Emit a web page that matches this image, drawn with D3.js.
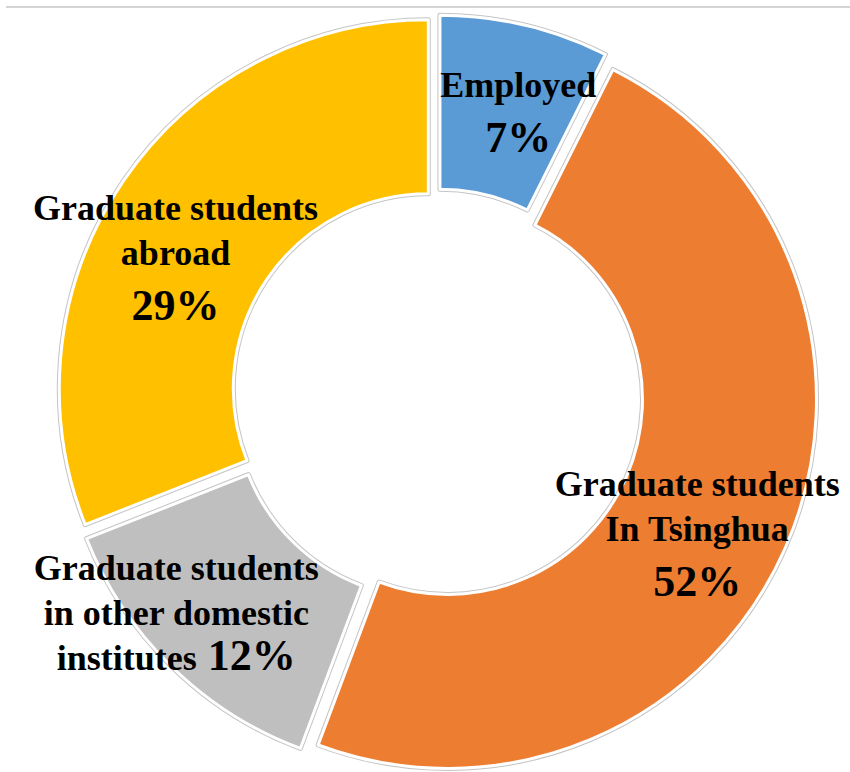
<!DOCTYPE html>
<html lang="en">
<head>
  <meta charset="UTF-8">
  <title>Graduate destinations</title>
  <script src="https://d3js.org/d3.v7.min.js"></script>
  <style>
    body {
      margin: 0;
      background: #fff;
    }
    .label {
      font-family: "Liberation Serif", "DejaVu Serif", serif;
      font-weight: bold;
      fill: #000;
    }
  </style>
</head>
<body>
  <div id="chart"></div>

  <script>
    // data: slice sizes as drawn, and the percentage text printed on them
    const categories = ["Employed", "Graduate students In Tsinghua", "Graduate students in other domestic institutes", "Graduate students abroad"];
    const values = [7.4, 48.3, 13.3, 31.0];
    const pctLabels = ["7%", "52%", "12%", "29%"];
    const colors = ["#5B9BD5", "#ED7D31", "#BFBFBF", "#FFC000"];
    const labelLines = [
      ["Employed"],
      ["Graduate students", "In Tsinghua"],
      ["Graduate students", "in other domestic", "institutes"],
      ["Graduate students", "abroad"]
    ];
    const pctInline = [false, false, true, false];

    const width = 850, height = 772;
    const cx = 437.4, cy = 395;
    const outerR = 369, innerR = 195;
    const explode = 11;
    // label nudges from the mid-angle point (dx, dy of first baseline)
    const labelR = 290;
    const labelNudge = [[14, -16], [-6, -15], [-58, -22], [-22, -12]];
    const lineGap = 45, pctGap = 55;

    const svg = d3.select("#chart")
      .append("svg")
      .attr("width", width)
      .attr("height", height);

    // top rule
    svg.append("line")
      .attr("x1", 6).attr("x2", width)
      .attr("y1", 7).attr("y2", 7)
      .attr("stroke", "#d4d4d4")
      .attr("stroke-width", 2);

    const pie = d3.pie().sort(null).value(d => d);
    const arcs = pie(values);
    const arc = d3.arc().innerRadius(innerR).outerRadius(outerR);

    const g = svg.append("g").attr("transform", `translate(${cx},${cy})`);

    const slices = g.selectAll(".slice")
      .data(arcs)
      .enter()
      .append("g")
      .attr("class", "slice")
      .attr("transform", d => {
        const a = (d.startAngle + d.endAngle) / 2;
        return `translate(${Math.sin(a) * explode},${-Math.cos(a) * explode})`;
      });

    // gray outline, then white border with fill
    slices.append("path")
      .attr("d", arc)
      .attr("fill", "none")
      .attr("stroke", "#c4c4c4")
      .attr("stroke-width", 5)
      .attr("stroke-linejoin", "round");

    slices.append("path")
      .attr("d", arc)
      .attr("fill", (d, i) => colors[i])
      .attr("stroke", "#fff")
      .attr("stroke-width", 3)
      .attr("stroke-linejoin", "round");

    // labels
    arcs.forEach((d, i) => {
      const a = (d.startAngle + d.endAngle) / 2;
      const x = Math.sin(a) * labelR + labelNudge[i][0];
      const y0 = -Math.cos(a) * labelR + labelNudge[i][1];
      const lines = labelLines[i];
      const t = g.append("text")
        .attr("class", "label")
        .attr("text-anchor", "middle");
      lines.forEach((ln, j) => {
        t.append("tspan")
          .attr("x", x)
          .attr("y", y0 + j * lineGap)
          .style("font-size", "36px")
          .text(ln);
        if (pctInline[i] && j === lines.length - 1) {
          t.append("tspan")
            .style("font-size", "44px")
            .text(" " + pctLabels[i]);
        }
      });
      if (!pctInline[i]) {
        t.append("tspan")
          .attr("x", x)
          .attr("y", y0 + (lines.length - 1) * lineGap + pctGap)
          .style("font-size", "44px")
          .text(pctLabels[i]);
      }
    });
  </script>
</body>
</html>
